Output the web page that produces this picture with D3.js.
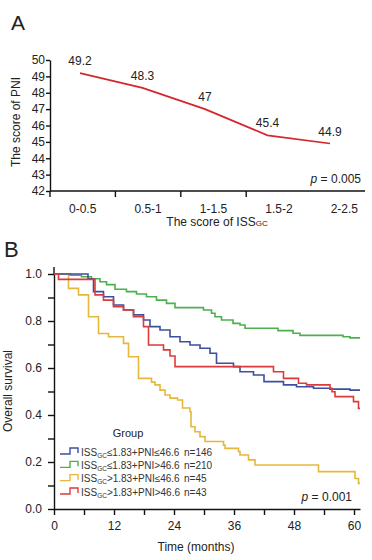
<!DOCTYPE html>
<html>
<head>
<meta charset="utf-8">
<script src="https://cdn.jsdelivr.net/npm/d3@7"></script>
<style>
  body { margin: 0; background: #fff; }
  svg { display: block; font-family: "Liberation Sans", Arial, sans-serif; }
  .axis path, .axis line { stroke: #111; stroke-width: 1.4; }
  .axis text { font-size: 12px; fill: #222; font-family: "Liberation Sans", Arial, sans-serif; }
</style>
</head>
<body>
<svg id="chart" width="372" height="560"></svg>
<script>
// panel A data
var categories = ["0-0.5", "0.5-1", "1-1.5", "1.5-2", "2-2.5"];
var pniScores = [49.2, 48.3, 47, 45.4, 44.9];
var pniTicks = [42, 43, 44, 45, 46, 47, 48, 49, 50];

// panel B data (Kaplan-Meier steps: time of drop, survival after drop)
var groups = ["ISS≤PNI≤", "ISS≤PNI>", "ISS>PNI≤", "ISS>PNI>"];
var groupCounts = [146, 210, 45, 43];
var blueTimes = [0, 6.8, 7.9, 9.9, 11.9, 13.9, 15.9, 17.9, 19.2, 21.2, 23.2, 25.2, 27.2, 29.2, 31.2, 32.5, 35.9, 37.2, 39.9, 42.0, 45.9, 48.5, 51.9, 55.2, 59.2];
var blueSurv  = [1, 0.98, 0.925, 0.903, 0.868, 0.847, 0.826, 0.804, 0.776, 0.762, 0.733, 0.712, 0.698, 0.684, 0.663, 0.620, 0.606, 0.584, 0.570, 0.542, 0.528, 0.520, 0.514, 0.510, 0.506];
var greenTimes = [0, 3.2, 5.5, 7.5, 9.2, 10.5, 12.2, 14.5, 16.5, 18.5, 20.5, 22.5, 24.2, 29.9, 31.5, 32.2, 33.5, 35.8, 37.2, 38.2, 44.8, 47.8, 49.2, 57.8, 59.2];
var greenSurv  = [1, 0.995, 0.988, 0.98, 0.967, 0.955, 0.935, 0.925, 0.915, 0.903, 0.889, 0.875, 0.857, 0.847, 0.833, 0.818, 0.804, 0.79, 0.783, 0.769, 0.759, 0.748, 0.739, 0.733, 0.728];
var yellowTimes = [0, 2.9, 4.9, 6.9, 8.9, 10.9, 13.9, 14.9, 16.9, 19.5, 20.2, 21.2, 22.2, 23.2, 24.7, 25.7, 27.2, 27.4, 28.2, 29.2, 30.2, 33.9, 34.2, 36.9, 37.2, 38.9, 40.2, 52.9, 60.2, 60.9];
var yellowSurv  = [1, 0.939, 0.911, 0.818, 0.747, 0.733, 0.705, 0.648, 0.556, 0.540, 0.528, 0.506, 0.485, 0.472, 0.464, 0.43, 0.414, 0.35, 0.329, 0.308, 0.287, 0.272, 0.258, 0.244, 0.230, 0.209, 0.187, 0.159, 0.13, 0.109];
var redTimes = [0, 0.9, 8.2, 9.9, 11.9, 13.9, 15.9, 17.9, 18.9, 21.9, 23.2, 24.2, 43.9, 45.9, 48.9, 50.5, 55.2, 55.6, 56.2, 59.9, 60.9];
var redSurv  = [1, 0.977, 0.911, 0.889, 0.861, 0.847, 0.818, 0.776, 0.698, 0.677, 0.651, 0.606, 0.584, 0.556, 0.535, 0.528, 0.514, 0.499, 0.478, 0.457, 0.428];
var timeTicks = [0, 12, 24, 36, 48, 60];
var survTicks = [0, 0.2, 0.4, 0.6, 0.8, 1.0];
var maxTime = 61.2;

var colors = ["#3d4f9f", "#4cb04f", "#e5b83c", "#dc3b3b"];

var svg = d3.select("#chart");

// ---------- panel A ----------
svg.append("text").attr("x", 11).attr("y", 30).attr("font-size", 21).attr("fill", "#222").text("A");

var xBand = d3.scaleBand().domain(categories).range([50, 377]);
var xPoint = d3.scalePoint().domain(categories).range([80, 330]);
var yA = d3.scaleLinear().domain([42, 50]).range([191, 60]);

var gAx = svg.append("g").attr("class", "axis").attr("transform", "translate(0,191)")
    .call(d3.axisBottom(xBand).tickSize(0).tickPadding(13));
gAx.select(".domain").remove();
gAx.append("line").attr("x1", 50).attr("x2", 365).attr("y1", 0).attr("y2", 0);
gAx.selectAll(".sep").data(categories.slice(0, 4)).enter().append("line")
    .attr("x1", function (d) { return xBand(d); }).attr("x2", function (d) { return xBand(d); })
    .attr("y1", 0).attr("y2", 6);

svg.append("g").attr("class", "axis").attr("transform", "translate(50,0)")
    .call(d3.axisLeft(yA).tickValues(pniTicks).tickSize(4).tickPadding(1).tickSizeOuter(0));

var lineA = d3.line().x(function (d, i) { return xPoint(categories[i]); }).y(function (d) { return yA(d); });
svg.append("path").datum(pniScores).attr("d", lineA)
    .attr("fill", "none").attr("stroke", "#d4262b").attr("stroke-width", 1.7);

svg.selectAll(".lblA").data(pniScores).enter().append("text")
    .attr("x", function (d, i) { return xPoint(categories[i]); })
    .attr("y", function (d) { return yA(d) - 8; })
    .attr("text-anchor", "middle").attr("font-size", 12).attr("fill", "#222")
    .text(function (d) { return d; });

svg.append("text").attr("transform", "translate(20,122) rotate(-90)")
    .attr("text-anchor", "middle").attr("font-size", 12).attr("fill", "#222").text("The score of PNI");

var tA = svg.append("text").attr("x", 217).attr("y", 226).attr("text-anchor", "middle")
    .attr("font-size", 12).attr("fill", "#222");
tA.append("tspan").text("The score of ISS");
tA.append("tspan").attr("font-size", 8).text("GC");

var pA = svg.append("text").attr("x", 361).attr("y", 183).attr("text-anchor", "end")
    .attr("font-size", 12).attr("fill", "#222");
pA.append("tspan").attr("font-style", "italic").text("p");
pA.append("tspan").text(" = 0.005");

// ---------- panel B ----------
svg.append("text").attr("x", 4).attr("y", 257).attr("font-size", 22).attr("fill", "#222").text("B");

var xB = d3.scaleLinear().domain([0, maxTime]).range([54, 360]);
var yB = d3.scaleLinear().domain([0, 1]).range([509, 274]);

var gBx = svg.append("g").attr("class", "axis").attr("transform", "translate(0,509)")
    .call(d3.axisBottom(xB).tickValues(d3.range(0, 61, 6)).tickSize(6).tickPadding(6).tickSizeOuter(0)
        .tickFormat(function (d) { return timeTicks.indexOf(d) >= 0 ? d : ""; }));

var gBy = svg.append("g").attr("class", "axis").attr("transform", "translate(54,0)")
    .call(d3.axisLeft(yB).tickValues(d3.range(0, 1.01, 0.1)).tickSize(6).tickPadding(6).tickSizeOuter(0)
        .tickFormat(function (d) {
            var m = survTicks.filter(function (s) { return Math.abs(s - d) < 1e-6; });
            return m.length ? d3.format(".1f")(m[0]) : "";
        }));
gBy.append("line").attr("x1", 0).attr("x2", 0).attr("y1", yB(1)).attr("y2", yB(1.03));

var curves = [
    { t: blueTimes, s: blueSurv },
    { t: greenTimes, s: greenSurv },
    { t: yellowTimes, s: yellowSurv },
    { t: redTimes, s: redSurv }
];
var stepLine = d3.line().curve(d3.curveStepAfter)
    .x(function (d) { return xB(d[0]); }).y(function (d) { return yB(d[1]); });

// draw order so that green sits under, red above blue like reference
[1, 2, 0, 3].forEach(function (k) {
    var c = curves[k];
    var pts = c.t.map(function (t, i) { return [t, c.s[i]]; });
    pts.push([maxTime, c.s[c.s.length - 1]]);
    svg.append("path").datum(pts).attr("d", stepLine)
        .attr("fill", "none").attr("stroke", colors[k]).attr("stroke-width", 1.6);
});

svg.append("text").attr("transform", "translate(12,391) rotate(-90)")
    .attr("text-anchor", "middle").attr("font-size", 12).attr("fill", "#222").text("Overall survival");
svg.append("text").attr("x", 196).attr("y", 551).attr("text-anchor", "middle")
    .attr("font-size", 12).attr("fill", "#222").text("Time (months)");

var pB = svg.append("text").attr("x", 352).attr("y", 501).attr("text-anchor", "end")
    .attr("font-size", 12).attr("fill", "#222");
pB.append("tspan").attr("font-style", "italic").text("p");
pB.append("tspan").text(" = 0.001");

// legend
var legend = svg.append("g");
legend.append("text").attr("x", 128).attr("y", 437).attr("text-anchor", "middle")
    .attr("font-size", 11).attr("fill", "#222").text("Group");
var rowY = d3.scaleLinear().domain([0, 3]).range([452, 492]);
groups.forEach(function (g, i) {
    var y = rowY(i);
    legend.append("path")
        .attr("d", "M60," + (y + 2) + "H70V" + (y - 4) + "H78V" + (y + 1))
        .attr("fill", "none").attr("stroke", colors[i]).attr("stroke-width", 1.4);
    var t = legend.append("text").attr("x", 81).attr("y", y + 3.5).attr("font-size", 10).attr("fill", "#333");
    t.append("tspan").text("ISS");
    t.append("tspan").attr("font-size", 6.5).attr("dy", 2).text("GC");
    t.append("tspan").attr("dy", -2).text((i < 2 ? "≤" : ">") + "1.83+PNI" + (i % 2 === 0 ? "≤" : ">") + "46.6");
    legend.append("text").attr("x", 184).attr("y", y + 3.5).attr("font-size", 10).attr("fill", "#333")
        .text("n=" + groupCounts[i]);
});
</script>
</body>
</html>
